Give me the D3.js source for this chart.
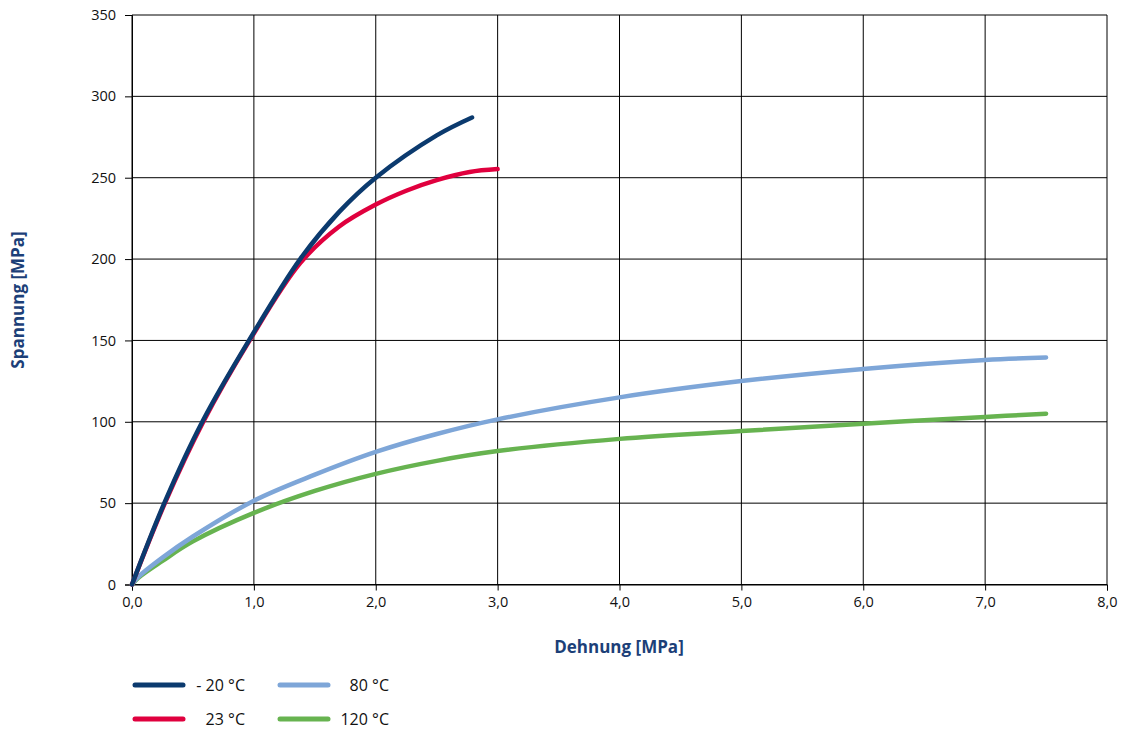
<!DOCTYPE html>
<html><head><meta charset="utf-8">
<script src="https://cdn.jsdelivr.net/npm/d3@7"></script>
<style>
html,body{margin:0;padding:0;background:#fff;}
svg{display:block;font-family:"Open Sans","Noto Sans",sans-serif;}
</style></head>
<body><svg id="c" width="1122" height="731"></svg>
<script>
const xTicks = [0,1,2,3,4,5,6,7,8];
const yTicks = [0,50,100,150,200,250,300,350];
const seriesNames = ["- 20 °C","23 °C","80 °C","120 °C"];
const seriesColors = ["#0b3a6e","#e0003e","#7ea6d8","#67b350"];
const sMinus20 = [[0,0],[0.265,50],[0.577,100],[0.96,150],[1.38,200],[1.7,229],[2.0,250],[2.5,276],[2.79,287]];
const s23 = [[0,0],[0.27,50],[0.585,100],[0.965,150],[1.38,197.5],[1.7,220],[2.0,233.5],[2.25,242],[2.5,248.5],[2.77,253.5],[3.0,255.3]];
const s80 = [[0,0],[0.05,4.5],[0.25,16.5],[0.5,29.5],[1.0,51.5],[1.5,67.5],[2.0,81.5],[2.5,92.5],[3.0,101.5],[4.0,115],[5.0,125],[6.0,132.5],[7.0,138],[7.5,139.5]];
const s120 = [[0,0],[0.05,4],[0.25,14.5],[0.5,26.5],[1.0,44],[1.5,57.5],[2.0,68],[2.5,76],[3.0,82],[4.0,89.5],[5.0,94.3],[6.0,98.8],[7.0,103],[7.5,105]];
const seriesData = [sMinus20, s23, s80, s120];

const svg = d3.select("#c");
const x = d3.scaleLinear().domain([0,8]).range([132,1107]);
const y = d3.scaleLinear().domain([0,350]).range([584.5,15]);

// grid
const g = svg.append("g");
g.selectAll("line.v").data(xTicks).join("line")
  .attr("x1",d=>x(d)).attr("x2",d=>x(d)).attr("y1",y(0)).attr("y2",y(350))
  .attr("stroke","#000").attr("stroke-width",1);
g.selectAll("line.h").data(yTicks).join("line")
  .attr("x1",x(0)).attr("x2",x(8)).attr("y1",d=>y(d)).attr("y2",d=>y(d))
  .attr("stroke","#000").attr("stroke-width",1);

// axes
const fmt = d=>d3.format(".1f")(d).replace(".",",");
const xa = svg.append("g").attr("transform",`translate(0,${y(0)})`)
  .call(d3.axisBottom(x).tickValues(xTicks).tickFormat(fmt).tickSize(6).tickPadding(6));
const ya = svg.append("g").attr("transform",`translate(${x(0)},0)`)
  .call(d3.axisLeft(y).tickValues(yTicks).tickSize(7).tickPadding(9));
[xa,ya].forEach(a=>{
  a.select(".domain").attr("stroke","#000");
  a.selectAll(".tick line").attr("stroke","#000");
  a.selectAll("text").attr("font-family","'Open Sans','Noto Sans',sans-serif").attr("font-size",14.5).attr("fill","#111");
});

// lines
const line = d3.line().x(d=>x(d[0])).y(d=>y(d[1])).curve(d3.curveCatmullRom.alpha(0.5));
const order = [3,2,1,0];
order.forEach(i=>{
  svg.append("path").datum(seriesData[i]).attr("d",line)
    .attr("fill","none").attr("stroke",seriesColors[i]).attr("stroke-width",4.5)
    .attr("stroke-linecap","round").attr("stroke-linejoin","round");
});

// axis titles
svg.append("text").attr("x",619).attr("y",653).attr("text-anchor","middle")
  .attr("font-size",17).attr("font-weight","bold").attr("fill","#1c3f78").text("Dehnung [MPa]");
svg.append("text").attr("transform","translate(24,300) rotate(-90)").attr("text-anchor","middle")
  .attr("font-size",17).attr("font-weight","bold").attr("fill","#1c3f78").text("Spannung [MPa]");

// legend
const legPos = [[135,685],[135,719],[280,685],[280,719]];
const legTextEnd = [245,245,389,389];
seriesNames.forEach((n,i)=>{
  const [lx,ly] = legPos[i];
  svg.append("line").attr("x1",lx).attr("x2",lx+48).attr("y1",ly).attr("y2",ly)
    .attr("stroke",seriesColors[i]).attr("stroke-width",5).attr("stroke-linecap","round");
  svg.append("text").attr("x",legTextEnd[i]).attr("y",ly+6).attr("text-anchor","end")
    .attr("font-size",16).attr("fill","#111").text(n);
});
</script></body></html>
